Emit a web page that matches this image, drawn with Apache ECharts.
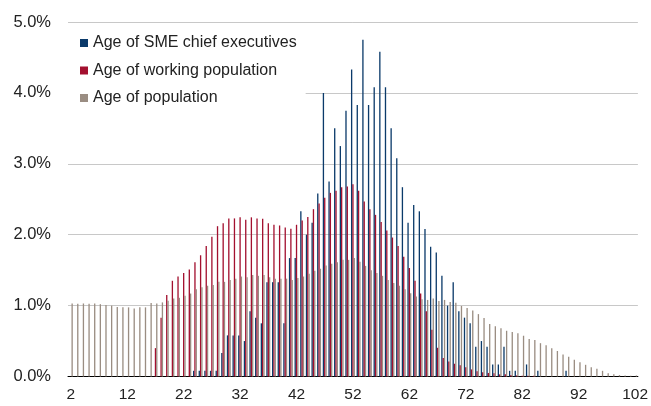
<!DOCTYPE html>
<html>
<head>
<meta charset="utf-8">
<script src="https://cdn.jsdelivr.net/npm/echarts@6/dist/echarts.min.js"></script>
<style>
html,body{margin:0;padding:0;background:#fff;}
#main{width:651px;height:406px;}
</style>
</head>
<body>
<div id="main"></div>
<script>
// ages on the x axis
var ages = [2,3,4,5,6,7,8,9,10,11,12,13,14,15,16,17,18,19,20,21,22,23,24,25,26,27,28,29,30,31,32,
	33,34,35,36,37,38,39,40,41,42,43,44,45,46,47,48,49,50,51,52,53,54,55,56,57,58,59,60,61,62,
	63,64,65,66,67,68,69,70,71,72,73,74,75,76,77,78,79,80,81,82,83,84,85,86,87,88,89,90,91,92,
	93,94,95,96,97,98,99,100,101,102];

// % of SME chief executives by age
var smeChiefs = [0,0,0,0,0,0,0,0,0,0,0,0,0,0,0,0,0,0,0,0,0,0,
	0.08,0.08,0.08,0.08,0.08,0.33,0.58,0.58,0.58,0.50,0.92,0.83,0.75,1.33,1.33,1.33,0.75,
	1.67,1.67,2.33,2.00,2.17,2.58,4.00,2.75,3.50,3.25,3.75,4.33,3.83,4.75,3.83,4.08,4.58,
	4.08,3.50,3.08,2.67,2.17,2.42,2.33,2.08,1.83,1.75,1.42,1.00,1.33,0.92,0.83,0.75,0.42,
	0.50,0.42,0.17,0.17,0.42,0.08,0.08,0,0.17,0,0.08,
	0,0,0,0,0.08,0,0,0,0,0,0,0,0,0,0,0,0];

// % of working population by age
var workingPop = [0,0,0,0,0,0,0,0,0,0,0,0,0,0,0,
	0.40,0.83,1.15,1.35,1.41,1.46,1.51,1.61,1.71,1.84,1.97,2.12,2.16,2.23,2.23,2.245,2.21,
	2.245,2.23,2.225,2.16,2.14,2.13,2.10,2.085,2.14,2.20,2.25,2.36,2.44,2.52,2.59,2.62,2.67,
	2.68,2.71,2.62,2.47,2.36,2.28,2.18,2.06,1.96,1.84,1.69,1.53,1.35,1.17,0.92,0.66,0.405,
	0.26,0.21,0.18,0.16,0.13,0.10,0.075,0.06,0.05,0.045,0.03,0.03,0.02,0.015,0.01,0.01,0.01,
	0,0,0,0,0,0,0,0,0,0,0,0,0,0,0,0,0,0];

// % of population by age
var population = [1.03,1.025,1.03,1.025,1.03,1.02,1.01,1.00,0.98,0.975,0.975,0.96,0.975,0.975,
	1.035,1.03,1.045,1.07,1.10,1.11,1.14,1.17,1.23,1.26,1.28,1.29,1.335,1.335,1.36,1.38,1.41,
	1.40,1.43,1.42,1.43,1.40,1.38,1.38,1.38,1.36,1.39,1.41,1.45,1.49,1.52,1.565,1.59,1.61,
	1.645,1.645,1.67,1.62,1.56,1.50,1.46,1.42,1.36,1.32,1.28,1.23,1.175,1.13,1.09,1.08,1.10,
	1.065,1.08,1.05,1.04,0.995,0.966,0.93,0.88,0.825,0.74,0.71,0.68,0.645,0.627,0.61,0.575,
	0.53,0.515,0.47,0.44,0.40,0.36,0.31,0.28,0.235,0.20,0.165,0.13,0.11,0.08,0.047,0.033,
	0.02,0.015,0.01,0.015];

var seriesNames = ['Age of SME chief executives','Age of working population','Age of population'];
var colors = ['#0b3a6a','#a3102f','#9a8d82'];

var myChart = echarts.init(document.getElementById('main'));
var font = "'Liberation Sans', Arial, sans-serif";

var option = {
	animation: false,
	color: colors,
	grid: {
		left: 68,
		right: 11,
		top: 22,
		bottom: 29.5
	},
	legend: {
		orient: 'vertical',
		left: 67,
		top: 30,
		padding: [5, 9, 5, 13],
		backgroundColor: '#fff',
		icon: 'rect',
		itemWidth: 8,
		itemHeight: 8,
		itemGap: 11.5,
		textStyle: {
			color: '#222',
			fontFamily: font,
			fontSize: 16,
			lineHeight: 16
		},
		data: seriesNames
	},
	xAxis: {
		type: 'category',
		data: ages,
		boundaryGap: true,
		axisLine: {lineStyle: {color: '#000', width: 1}},
		axisTick: {interval: 0, length: 6, lineStyle: {color: '#000'}},
		axisLabel: {
			interval: 9,
			margin: 10,
			color: '#222',
			fontFamily: font,
			fontSize: 15.5
		},
		splitLine: {show: false}
	},
	yAxis: {
		type: 'value',
		min: 0,
		max: 5,
		interval: 1,
		axisLine: {show: false},
		axisTick: {show: false},
		axisLabel: {
			margin: 17,
			color: '#222',
			fontFamily: font,
			fontSize: 16.5,
			formatter: function (v) { return v.toFixed(1) + '%'; }
		},
		splitLine: {lineStyle: {color: '#c8c8c8', width: 1}}
	},
	series: [
		{
			name: seriesNames[0],
			type: 'bar',
			barGap: '0%',
			barCategoryGap: '30%',
			data: smeChiefs
		},
		{
			name: seriesNames[1],
			type: 'bar',
			barGap: '0%',
			barCategoryGap: '30%',
			data: workingPop
		},
		{
			name: seriesNames[2],
			type: 'bar',
			barGap: '0%',
			barCategoryGap: '30%',
			data: population
		}
	]
};
myChart.setOption(option);
</script>
</body>
</html>
